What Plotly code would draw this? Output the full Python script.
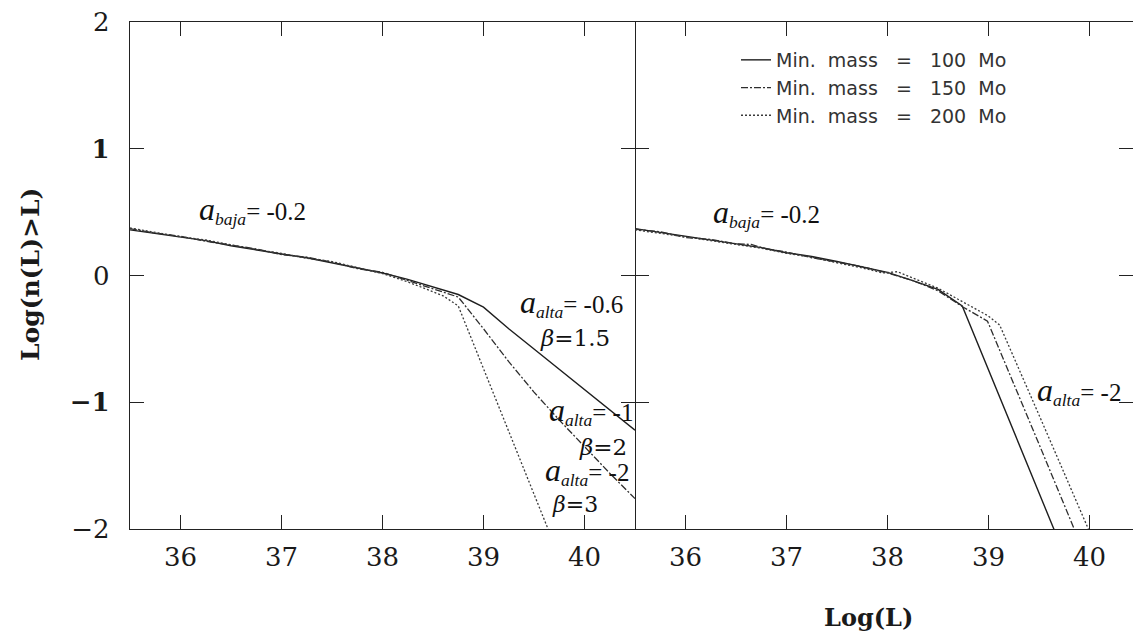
import plotly.graph_objects as go

# ---------------- data ----------------
# Left panel: different high-luminosity slopes (a_alta = -0.6, -1, -2)
left_x_100 = [35.5, 35.75, 36.0, 36.25, 36.5, 36.75, 37.0, 37.25, 37.5, 37.75, 38.0, 38.25, 38.5, 38.75,
              39.0, 39.25, 39.5, 39.75, 40.0, 40.25, 40.5]
left_y_100 = [0.36, 0.33, 0.30, 0.275, 0.235, 0.20, 0.17, 0.14, 0.10, 0.06, 0.02, -0.03, -0.09, -0.15,
              -0.25, -0.42, -0.58, -0.74, -0.90, -1.06, -1.22]

left_x_150 = [35.5, 35.75, 36.0, 36.25, 36.5, 36.75, 37.0, 37.25, 37.5, 37.75, 38.0, 38.25, 38.5, 38.75,
              39.0, 39.25, 39.5, 39.75, 40.0, 40.25, 40.5]
left_y_150 = [0.37, 0.335, 0.31, 0.27, 0.24, 0.21, 0.165, 0.145, 0.105, 0.055, 0.025, -0.04, -0.10, -0.17,
              -0.42, -0.68, -0.92, -1.14, -1.35, -1.56, -1.76]

left_x_200 = [35.5, 35.75, 36.0, 36.25, 36.5, 36.75, 37.0, 37.25, 37.5, 37.75, 38.0, 38.25, 38.5, 38.6,
              38.75, 39.0, 39.25, 39.5, 39.75]
left_y_200 = [0.375, 0.34, 0.305, 0.28, 0.24, 0.205, 0.175, 0.135, 0.11, 0.065, 0.015, -0.05, -0.13, -0.16,
              -0.24, -0.735, -1.23, -1.72, -2.22]

# Right panel: same a_alta = -2, different minimum masses
right_x_100 = [35.5, 35.75, 36.0, 36.25, 36.5, 36.75, 37.0, 37.25, 37.5, 37.75, 38.0, 38.25, 38.5, 38.74,
               39.0, 39.25, 39.5, 39.75]
right_y_100 = [0.37, 0.34, 0.31, 0.28, 0.255, 0.22, 0.18, 0.15, 0.11, 0.065, 0.025, -0.04, -0.11, -0.24,
               -0.74, -1.22, -1.71, -2.20]

right_x_150 = [35.5, 35.75, 36.0, 36.25, 36.5, 36.65, 36.8, 37.0, 37.25, 37.5, 37.75, 38.0, 38.25, 38.5,
               38.75, 38.99, 39.25, 39.5, 39.75, 40.0]
right_y_150 = [0.365, 0.345, 0.30, 0.285, 0.25, 0.245, 0.21, 0.185, 0.14, 0.105, 0.07, 0.02, -0.04, -0.12,
               -0.25, -0.36, -0.85, -1.33, -1.81, -2.29]

right_x_200 = [35.5, 35.75, 36.0, 36.25, 36.5, 36.75, 37.0, 37.25, 37.5, 37.75, 37.95, 38.1, 38.25, 38.5,
               38.75, 39.0, 39.11, 39.25, 39.5, 39.75, 40.0, 40.2]
right_y_200 = [0.36, 0.335, 0.305, 0.275, 0.245, 0.215, 0.175, 0.145, 0.10, 0.06, 0.02, 0.03, -0.02, -0.10,
               -0.21, -0.32, -0.39, -0.65, -1.10, -1.56, -2.02, -2.39]

series_names = ["Min.  mass   =   100  Mo", "Min.  mass   =   150  Mo", "Min.  mass   =   200  Mo"]
x_ticks = [36, 37, 38, 39, 40]
y_ticks = [-2, -1, 0, 1, 2]
y_tick_text = ["\u22122", "<b>\u22121</b>", "0", "<b>1</b>", "2"]

# ---------------- figure ----------------
styles = [
    dict(color="#1e1e1e", width=1.4, dash="solid"),
    dict(color="#2e2e2e", width=1.3, dash="7px,2px,2px,2px"),
    dict(color="#3a3a3a", width=1.3, dash="2px,2px"),
]

fig = go.Figure()
left_sets = [(left_x_100, left_y_100), (left_x_150, left_y_150), (left_x_200, left_y_200)]
right_sets = [(right_x_100, right_y_100), (right_x_150, right_y_150), (right_x_200, right_y_200)]

for i, (xs, ys) in enumerate(left_sets):
    fig.add_trace(go.Scatter(x=xs, y=ys, mode="lines", line=styles[i], name=series_names[i],
                             showlegend=False, xaxis="x", yaxis="y"))
for i, (xs, ys) in enumerate(right_sets):
    fig.add_trace(go.Scatter(x=xs, y=ys, mode="lines", line=styles[i], name=series_names[i],
                             showlegend=True, xaxis="x2", yaxis="y2"))

W, H = 1133, 635
L_M, T_M, B_M = 130, 22, 106
plot_w = W - L_M
split = (635 - L_M) / plot_w

tick_font = dict(family="DejaVu Serif", size=26, color="#1a1a1a")
axis_common = dict(linecolor="#222", linewidth=1.4, mirror="ticks",
                   ticks="inside", ticklen=14, tickwidth=1.3, tickcolor="#222",
                   showgrid=False, zeroline=False, automargin=False, tickfont=tick_font)

fig.update_layout(
    width=W, height=H,
    margin=dict(l=L_M, r=0, t=T_M, b=B_M),
    paper_bgcolor="white", plot_bgcolor="white",
    xaxis=dict(domain=[0, split], range=[35.5, 40.5], tickvals=x_ticks, showline=True,
               ticklabelstandoff=5, anchor="y", **axis_common),
    yaxis=dict(domain=[0, 1], range=[-2, 2], tickvals=y_ticks, ticktext=y_tick_text, showline=True,
               ticklabelstandoff=14, anchor="x", **axis_common),
    xaxis2=dict(domain=[split, 1], range=[35.5, 35.5 + (W - 635) / 101.0], tickvals=x_ticks, showline=True,
                ticklabelstandoff=5, anchor="y2", **axis_common),
    yaxis2=dict(domain=[0, 1], range=[-2, 2], tickvals=y_ticks, showticklabels=False, showline=False,
                anchor="x2", **axis_common),
    showlegend=True,
    legend=dict(x=(736 - L_M) / plot_w, y=(529 - 41) / 507, xanchor="left", yanchor="top",
                bgcolor="rgba(0,0,0,0)", font=dict(family="DejaVu Sans", size=19, color="#333"),
                tracegroupgap=0, itemwidth=30),
)

serif = "Liberation Serif"
greek = "DejaVu Serif"


def a_label(sub, val):
    return ("<i><span style='font-size:32px'>a</span></i><sub><i>" + sub + "</i></sub>= " + val)


annots = [
    dict(text=a_label("baja", "-0.2"), x=36.16, y=0.52, xref="x", yref="y", font=dict(family=serif, size=25)),
    dict(text=a_label("alta", "-0.6"), x=39.34, y=-0.22, xref="x", yref="y", font=dict(family=serif, size=25)),
    dict(text="<i>\u03b2</i>=1.5", x=39.54, y=-0.49, xref="x", yref="y", font=dict(family=greek, size=23)),
    dict(text=a_label("alta", "-1"), x=39.63, y=-1.07, xref="x", yref="y", font=dict(family=serif, size=25)),
    dict(text="<i>\u03b2</i>=2", x=39.93, y=-1.35, xref="x", yref="y", font=dict(family=greek, size=23)),
    dict(text=a_label("alta", "-2"), x=39.59, y=-1.54, xref="x", yref="y", font=dict(family=serif, size=25)),
    dict(text="<i>\u03b2</i>=3", x=39.66, y=-1.81, xref="x", yref="y", font=dict(family=greek, size=22)),
    dict(text=a_label("baja", "-0.2"), x=36.25, y=0.49, xref="x2", yref="y2", font=dict(family=serif, size=25)),
    dict(text=a_label("alta", "-2"), x=39.46, y=-0.91, xref="x2", yref="y2", font=dict(family=serif, size=25)),
]
for a in annots:
    a.update(showarrow=False, xanchor="left", yanchor="middle")
    a["font"]["color"] = "#111"
    fig.add_annotation(**a)

# axis titles
fig.add_annotation(text="<b>Log(n(L)>L)</b>", xref="paper", yref="paper",
                   x=(30 - L_M) / plot_w, y=(529 - 275) / 507, textangle=-90, showarrow=False,
                   xanchor="center", yanchor="middle",
                   font=dict(family="DejaVu Serif", size=25, color="#1a1a1a"))
fig.add_annotation(text="<b>Log(L)</b>", xref="paper", yref="paper",
                   x=(868 - L_M) / plot_w, y=(529 - 617) / 507, showarrow=False,
                   xanchor="center", yanchor="middle",
                   font=dict(family="DejaVu Serif", size=24, color="#1a1a1a"))

fig.write_html("out.html")
